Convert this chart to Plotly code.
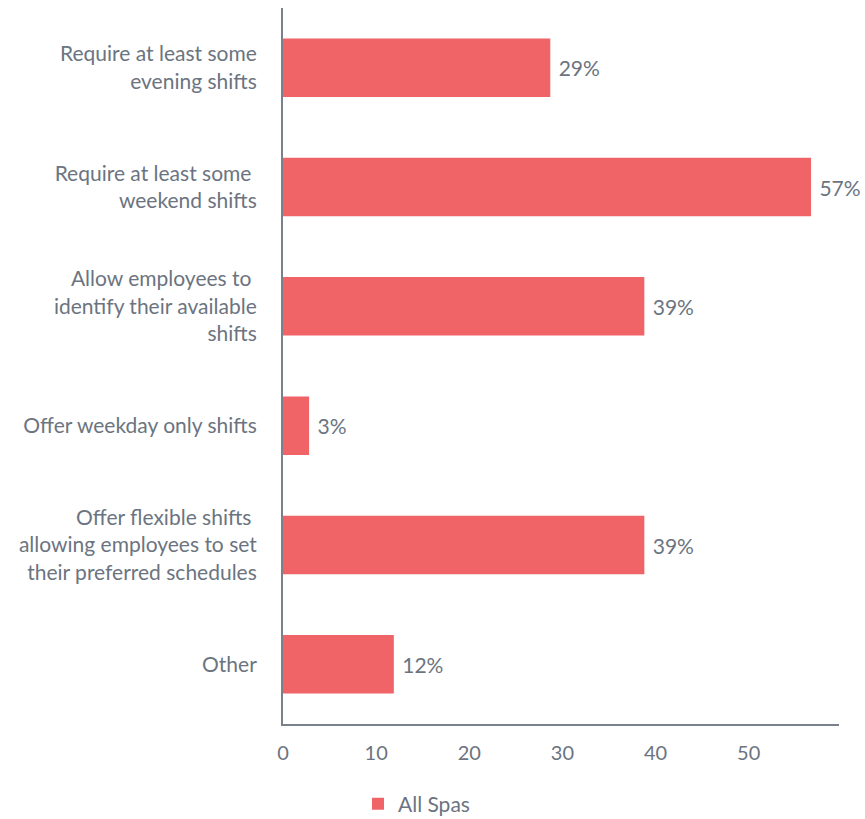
import plotly.graph_objects as go

categories = [
    "Require at least some<br>evening shifts",
    "Require at least some <br>weekend shifts",
    "Allow employees to <br>identify their available<br>shifts",
    "Offer weekday only shifts",
    "Offer flexible shifts <br>allowing employees to set<br>their preferred schedules",
    "Other",
]
values = [28.7, 56.7, 38.8, 2.8, 38.8, 11.9]
series_name = "All Spas"

BAR = "#F06468"
TXT = "#6B7480"
AX = "#7A818A"
FONT = "Lato, 'Open Sans', sans-serif"

fig = go.Figure()
fig.add_trace(go.Bar(
    x=values, y=categories, orientation="h", name=series_name,
    marker=dict(color=BAR, line=dict(width=0)),
    width=0.49,
    texttemplate="\u00a0%{x:.0f}%", textposition="outside",
    textfont=dict(size=21, color=TXT, family=FONT),
    cliponaxis=False, showlegend=True,
))

fig.update_layout(
    width=865, height=819,
    margin=dict(l=283, r=26, t=8, b=95),
    paper_bgcolor="white", plot_bgcolor="white",
    font=dict(family=FONT, color=TXT, size=21),
    bargap=0.5,
    showlegend=True,
    legend=dict(orientation="h", xref="container", yref="container",
                x=358/865, xanchor="left", y=15/819, yanchor="middle",
                font=dict(size=21, color=TXT, family=FONT)),
    xaxis=dict(range=[0, 59.7], tickvals=[0, 10, 20, 30, 40, 50],
               showgrid=False, zeroline=False, showline=True,
               linecolor=AX, linewidth=2, ticks="", ticklabelstandoff=10,
               tickfont=dict(size=20, color=TXT, family=FONT)),
    yaxis=dict(autorange="reversed", showgrid=False, zeroline=False,
               showline=True, linecolor=AX, linewidth=2, ticks="",
               ticklabelstandoff=20,
               tickfont=dict(size=21, color=TXT, family=FONT)),
)

fig.write_html("out.html")
